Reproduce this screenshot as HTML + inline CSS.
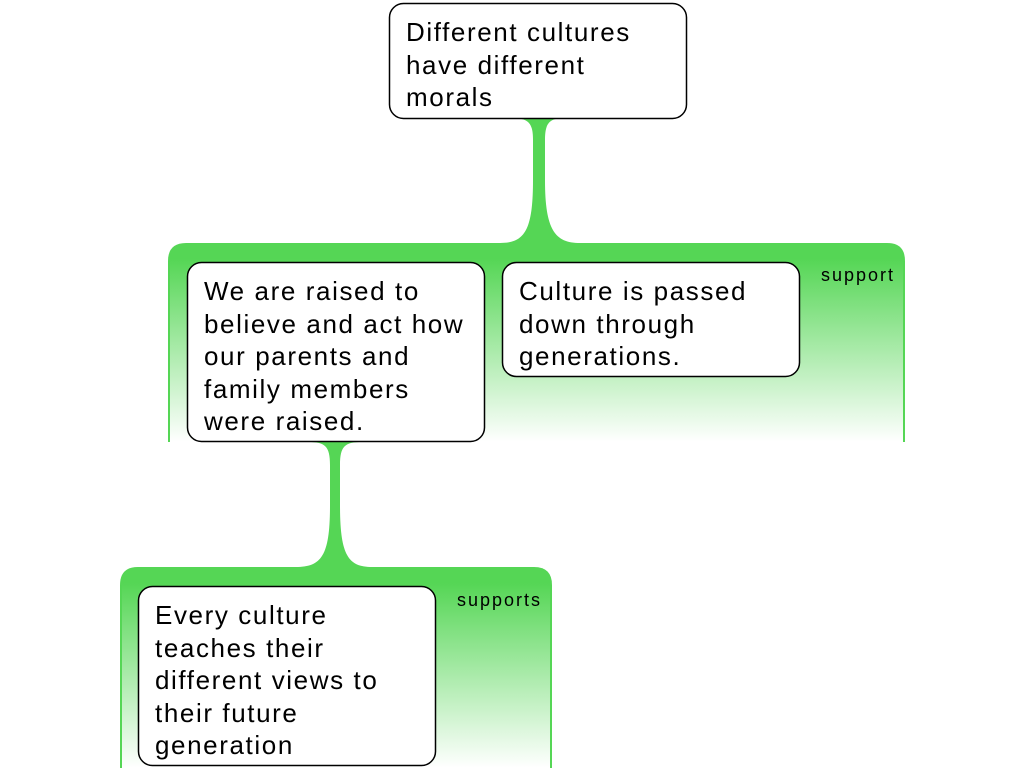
<!DOCTYPE html>
<html><head><style>body{margin:0;background:#fff}svg{display:block}text{font-family:"Liberation Sans",sans-serif;fill:#000}.t{font-size:26px;letter-spacing:1.6px}.s{font-size:18px;letter-spacing:2px}</style></head><body>
<svg width="1024" height="768" viewBox="0 0 1024 768" xmlns="http://www.w3.org/2000/svg">
<defs>
<linearGradient id="g1" x1="0" y1="243" x2="0" y2="442" gradientUnits="userSpaceOnUse"><stop offset="0" stop-color="#55d655"/><stop offset="0.08" stop-color="#55d655"/><stop offset="1" stop-color="#55d655" stop-opacity="0"/></linearGradient>
<linearGradient id="g2" x1="0" y1="567" x2="0" y2="768" gradientUnits="userSpaceOnUse"><stop offset="0" stop-color="#55d655"/><stop offset="0.08" stop-color="#55d655"/><stop offset="1" stop-color="#55d655" stop-opacity="0"/></linearGradient>
</defs>
<path d="M510,118 C528,118 533,122 533,140 L533,180 C533,230 525,243 500,243 L580,243 C555,243 545,230 545,180 L545,140 C545,122 550,118 566,118 Z" fill="#55d655"/>
<path d="M168,442 L168,261 Q168,243 186,243 L887,243 Q905,243 905,261 L905,442 Z" fill="url(#g1)"/>
<rect x="168" y="261" width="2" height="181" fill="#55d655"/>
<rect x="903" y="261" width="2" height="181" fill="#55d655"/>
<path d="M308,442 C325,442 330,446 330,465 L330,505 C330,555 322,567 296,567 L372,567 C348,567 340,555 340,505 L340,465 C340,446 345,442 362,442 Z" fill="#55d655"/>
<path d="M120,768 L120,585 Q120,567 138,567 L534,567 Q552,567 552,585 L552,768 Z" fill="url(#g2)"/>
<rect x="120" y="585" width="2" height="183" fill="#55d655"/>
<rect x="550" y="585" width="2" height="183" fill="#55d655"/>
<rect x="389.5" y="3.5" width="297" height="115" rx="14" fill="#fff" stroke="#000" stroke-width="1.5"/>
<text class="t"><tspan x="406" y="41">Different cultures</tspan><tspan x="406" y="74">have different</tspan><tspan x="406" y="106">morals</tspan></text>
<rect x="187.5" y="262.5" width="297" height="179" rx="14" fill="#fff" stroke="#000" stroke-width="1.5"/>
<text class="t"><tspan x="204" y="300">We are raised to</tspan><tspan x="204" y="333">believe and act how</tspan><tspan x="204" y="365">our parents and</tspan><tspan x="204" y="398">family members</tspan><tspan x="204" y="430">were raised.</tspan></text>
<rect x="502.5" y="262.5" width="297" height="114" rx="14" fill="#fff" stroke="#000" stroke-width="1.5"/>
<text class="t"><tspan x="519" y="300">Culture is passed</tspan><tspan x="519" y="333">down through</tspan><tspan x="519" y="365">generations.</tspan></text>
<text x="821" y="281" class="s">support</text>
<rect x="138.5" y="586.5" width="297" height="179" rx="14" fill="#fff" stroke="#000" stroke-width="1.5"/>
<text class="t"><tspan x="155" y="624">Every culture</tspan><tspan x="155" y="657">teaches their</tspan><tspan x="155" y="689">different views to</tspan><tspan x="155" y="722">their future</tspan><tspan x="155" y="754">generation</tspan></text>
<text x="457" y="606" class="s">supports</text>
</svg>
</body></html>
